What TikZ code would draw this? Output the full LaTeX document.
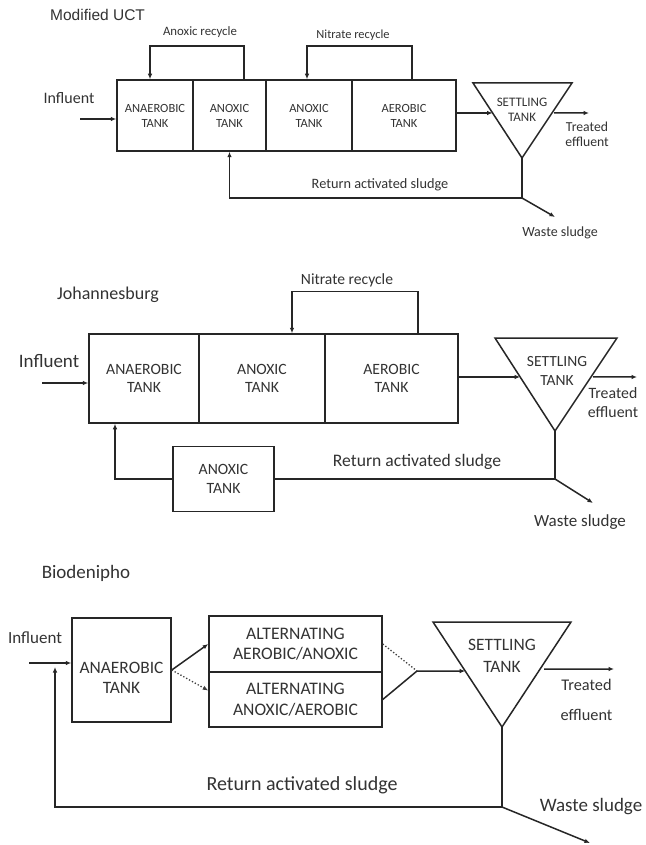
\documentclass[tikz,border=0pt]{standalone}
\usepackage{fontspec}
\setmainfont{Carlito}
\newfontfamily\arialf{Liberation Sans}
\usetikzlibrary{arrows.meta,calc}
\newcommand\fs[2]{\fontsize{#1}{#2}\selectfont}
\tikzset{
  ln/.style={line width=1.5pt, draw=black!85, line join=miter},
  arr/.style={ln, -{Latex[length=5.5pt,width=4.5pt]}},
  dotln/.style={line width=1.3pt, dotted, draw=black!75},
  tank/.style={draw=black!85, line width=1.5pt, inner sep=0pt, align=center, text=black!80},
  lbl/.style={inner sep=0pt, align=center, text=black!80},
}
\begin{document}
\begin{tikzpicture}[x=1pt,y=-1pt]
\useasboundingbox[fill=white] (0,0) rectangle (645,845);

% ---------------- Modified UCT ----------------
\node[lbl, anchor=west, font=\arialf\fs{15.5}{18}] (t1) at (50,15) {Modified UCT};
\node[tank, font=\fs{12.5}{15}, minimum width=76pt, minimum height=71pt] (a1) at (155,115.5) {ANAEROBIC\\TANK};
\node[tank, font=\fs{12.5}{15}, minimum width=73pt, minimum height=71pt] (b1) at (229.5,115.5) {ANOXIC\\TANK};
\node[tank, font=\fs{12.5}{15}, minimum width=86pt, minimum height=71pt] (c1) at (309,115.5) {ANOXIC\\TANK};
\node[tank, font=\fs{12.5}{15}, minimum width=104pt, minimum height=71pt] (d1) at (404,115.5) {AEROBIC\\TANK};
\draw[arr] ([xshift=14.5pt]b1.north) -- ++(0,-33) -| ([xshift=-5pt]a1.north);
\node[lbl, font=\fs{12.8}{15}] (ar1) at (200,32) {Anoxic recycle};
\draw[arr] ([xshift=8pt]d1.north) -- ++(0,-33) -| ([xshift=-2pt]c1.north);
\node[lbl, font=\fs{12.4}{15}] (nr1) at (353,35) {Nitrate recycle};
\node[lbl, font=\fs{16}{18}] (inf1) at (69,98) {Influent};
\coordinate (i1) at (80,119);
\draw[arr] (i1) -- (i1 -| a1.west);
\coordinate (t1a) at (473,83);
\coordinate (t1b) at (572,83);
\coordinate (t1c) at (522,158);
\draw[ln] (t1a) -- (t1b) -- (t1c) -- cycle;
\node[lbl, font=\fs{13}{15}] (st1) at (522,109.5) {SETTLING\\TANK};
\coordinate (e1) at ($(t1a)!0.4!(t1c)$);
\draw[arr] (d1.east |- e1) -- (e1);
\coordinate (o1) at ($(t1b)!0.4!(t1c)$);
\coordinate (o1e) at (589,113);
\draw[arr] ([xshift=2pt]o1) -- (o1e);
\node[lbl, font=\fs{13.7}{15.5}] (te1) at (587,134.5) {Treated\\effluent};
\coordinate (j1) at (522,198);
\draw[arr] (t1c) -- (j1) -| (b1.south);
\coordinate (w1) at (555,217);
\draw[arr] (j1) -- (w1);
\node[lbl, font=\fs{14}{16}] (ws1) at (560,233) {Waste sludge};
\node[lbl, font=\fs{14.3}{16}] (ra1) at (380,185) {Return activated sludge};

% ---------------- Johannesburg ----------------
\node[lbl, font=\fs{18}{20}] (t2) at (108,295) {Johannesburg};
\node[tank, font=\fs{15.7}{18}, minimum width=110pt, minimum height=89pt] (a2) at (144,378.5) {ANAEROBIC\\TANK};
\node[tank, font=\fs{15.7}{18}, minimum width=126pt, minimum height=89pt] (b2) at (262,378.5) {ANOXIC\\TANK};
\node[tank, font=\fs{15.7}{18}, minimum width=133pt, minimum height=89pt] (c2) at (391.5,378.5) {AEROBIC\\TANK};
\draw[arr] ([xshift=26.5pt]c2.north) -- ++(0,-42) -| ([xshift=30pt]b2.north);
\node[lbl, font=\fs{15.6}{18}] (nr2) at (347,280) {Nitrate recycle};
\node[lbl, font=\fs{19}{21}] (inf2) at (49,361) {Influent};
\coordinate (i2) at (42,383);
\draw[arr] (i2) -- (i2 -| a2.west);
\coordinate (t2a) at (495,338);
\coordinate (t2b) at (617,338);
\coordinate (t2c) at (555,431);
\draw[ln] (t2a) -- (t2b) -- (t2c) -- cycle;
\node[lbl, font=\fs{15.5}{19}] (st2) at (557,370.5) {SETTLING\\TANK};
\coordinate (e2) at ($(t2a)!0.419!(t2c)$);
\draw[arr] (c2.east |- e2) -- (e2);
\coordinate (o2) at ($(t2b)!0.419!(t2c)$);
\coordinate (o2e) at (637,377);
\draw[arr] ([xshift=2pt]o2) -- (o2e);
\node[lbl, font=\fs{15.8}{19}] (te2) at (613,402.5) {Treated\\effluent};
\node[tank, font=\fs{15.7}{19}, minimum width=101pt, minimum height=65pt] (d2) at (223.5,479) {ANOXIC\\TANK};
\coordinate (j2) at (555,479);
\draw[ln] (t2c) -- (j2) -- (d2.east);
\draw[arr] (d2.west) -| ([xshift=-29pt]a2.south);
\coordinate (w2) at (593,503);
\draw[arr] (j2) -- (w2);
\node[lbl, font=\fs{17}{19}] (ws2) at (580,522) {Waste sludge};
\node[lbl, font=\fs{17.6}{20}] (ra2) at (417,462) {Return activated sludge};

% ---------------- Biodenipho ----------------
\node[lbl, font=\fs{19}{21}] (t3) at (86,573) {Biodenipho};
\node[lbl, font=\fs{17}{19}] (inf3) at (35,638) {Influent};
\node[tank, minimum width=99pt, minimum height=104pt] (a3) at (121.5,670) {};
\node[lbl, font=\fs{17.4}{20}] (a3t) at (121.5,678) {ANAEROBIC\\TANK};
\node[tank, font=\fs{17.6}{20}, minimum width=173pt, minimum height=56pt] (e3) at (295.5,644) {ALTERNATING\\AEROBIC/ANOXIC};
\node[tank, font=\fs{17.6}{21}, minimum width=173pt, minimum height=55pt] (f3) at (295.5,699.5) {ALTERNATING\\ANOXIC/AEROBIC};
\coordinate (i3) at (29,663);
\draw[arr] (i3) -- (i3 -| a3.west);
\draw[arr] (a3.east) -- (e3.west);
\draw[dotln, -{Latex[length=5.5pt,width=4.5pt]}] (a3.east) -- ([yshift=9pt]f3.west);
\coordinate (m3) at (417,671);
\draw[dotln] (e3.east) -- (m3);
\draw[ln] (f3.east) -- (m3);
\coordinate (t3a) at (433,622);
\coordinate (t3b) at (571,622);
\coordinate (t3c) at (502,727);
\draw[ln] (t3a) -- (t3b) -- (t3c) -- cycle;
\node[lbl, font=\fs{17.4}{22}] (st3) at (502,656) {SETTLING\\TANK};
\coordinate (e3p) at ($(t3a)!0.467!(t3c)$);
\draw[arr] (m3) -- (e3p);
\coordinate (o3) at ($(t3b)!0.448!(t3c)$);
\coordinate (o3e) at (614,669);
\draw[arr] ([xshift=4pt]o3) -- (o3e);
\node[lbl, font=\fs{16.3}{30}] (te3) at (586.5,700) {Treated\\effluent};
\coordinate (j3) at (502,807);
\coordinate (r3) at (55,667);
\draw[arr] (t3c) -- (j3) -| (r3);
\coordinate (w3) at (590,843);
\draw[arr] (j3) -- (w3);
\node[lbl, font=\fs{19}{21}] (ws3) at (591,807) {Waste sludge};
\node[lbl, font=\fs{20}{22}] (ra3) at (302,785) {Return activated sludge};
\end{tikzpicture}
\end{document}
